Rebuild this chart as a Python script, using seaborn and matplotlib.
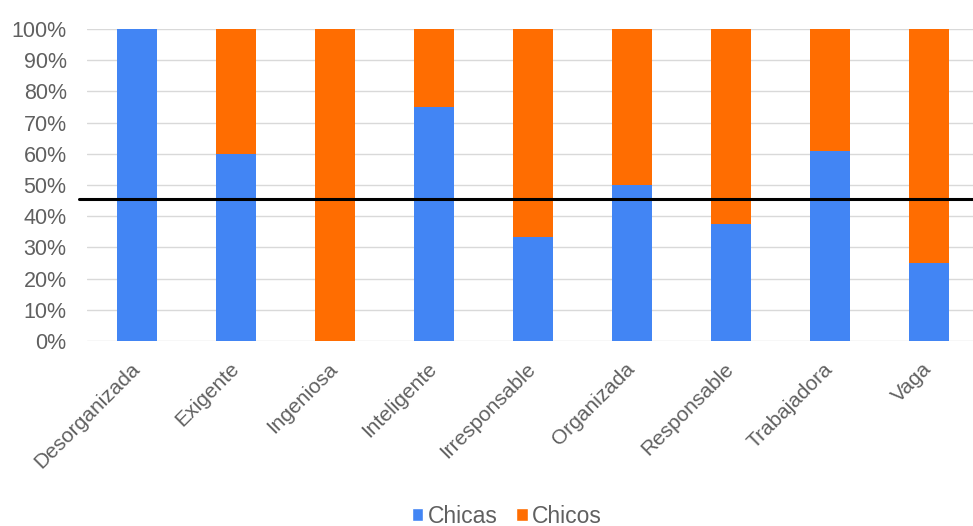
import matplotlib
matplotlib.use("Agg")
import matplotlib.pyplot as plt
from matplotlib.patches import Patch
from matplotlib.ticker import FuncFormatter
import seaborn as sns
import pandas as pd

categorias = ["Desorganizada", "Exigente", "Ingeniosa", "Inteligente", "Irresponsable",
              "Organizada", "Responsable", "Trabajadora", "Vaga"]
chicas = [100, 60, 0, 75, 33.3, 50, 37.5, 61, 25]
chicos = [0, 40, 100, 25, 66.7, 50, 62.5, 39, 75]
referencia = 45.5

azul = "#4285F4"
naranja = "#FF6D01"
gris_texto = "#606060"

df = pd.DataFrame({"categoria": categorias, "Chicas": chicas, "Chicos": chicos})
df["total"] = df["Chicas"] + df["Chicos"]

sns.set_theme(style="white")
plt.rcParams["font.family"] = ["Liberation Sans", "DejaVu Sans"]

fig = plt.figure(figsize=(9.73, 5.26), dpi=100)
ax = fig.add_axes([0.0899, 0.3517, 0.9101, 0.5932])

# stacked bars: orange total behind, blue share in front
sns.barplot(data=df, x="categoria", y="total", color=naranja, width=0.4,
            saturation=1, linewidth=0, ax=ax, zorder=2)
sns.barplot(data=df, x="categoria", y="Chicas", color=azul, width=0.4,
            saturation=1, linewidth=0, ax=ax, zorder=3)

ax.set_ylim(0, 100)
ax.set_xlim(-0.5, 8.444)
ax.set_yticks(range(0, 101, 10))
ax.yaxis.set_major_formatter(FuncFormatter(lambda v, _: f"{int(v)}%"))
ax.grid(axis="y", color="#d9d9d9", linewidth=1, zorder=0)
ax.set_axisbelow(True)
for s in ax.spines.values():
    s.set_visible(False)
ax.set_xlabel("")
ax.set_ylabel("")
ax.tick_params(axis="y", length=0, labelsize=15.5, colors=gris_texto, pad=15)
ax.tick_params(axis="x", length=0, labelsize=15, colors=gris_texto, pad=18)
for lbl in ax.get_xticklabels():
    lbl.set_rotation(45)
    lbl.set_ha("right")
    lbl.set_va("center")
    lbl.set_rotation_mode("anchor")

ax.axhline(referencia, xmin=-0.01, xmax=1, color="black", linewidth=2.2,
           zorder=5, clip_on=False)

handles = [Patch(facecolor=azul, label="Chicas"), Patch(facecolor=naranja, label="Chicos")]
fig.legend(handles=handles, loc="center", bbox_to_anchor=(0.521, 0.019), ncol=2,
           frameon=False, fontsize=16.5, handlelength=0.5, handleheight=0.5,
           handletextpad=0.2, columnspacing=0.8, labelcolor=gris_texto)

fig.savefig("out.png", dpi=100, facecolor="white")
